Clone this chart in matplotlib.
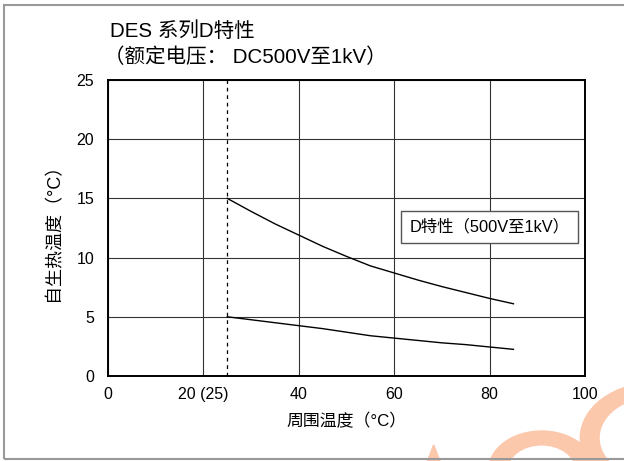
import numpy as np
import matplotlib
matplotlib.use("Agg")
import matplotlib.pyplot as plt
from matplotlib.patches import Rectangle, Wedge, Polygon

plt.rcParams['font.family'] = ['Liberation Sans', 'Noto Sans CJK SC', 'DejaVu Sans']

# data
temp_upper = [25, 30, 35, 40, 45, 50, 55, 60, 65, 70, 75, 80, 85]
heat_upper = [15.0, 13.9, 12.85, 11.9, 10.95, 10.1, 9.3, 8.7, 8.1, 7.55, 7.05, 6.55, 6.1]
temp_lower = [25, 30, 35, 40, 45, 50, 55, 60, 65, 70, 75, 80, 85]
heat_lower = [5.0, 4.75, 4.5, 4.25, 4.0, 3.7, 3.4, 3.2, 3.0, 2.8, 2.65, 2.45, 2.25]
xticks = [0, 20, 40, 60, 80, 100]
xticklabels = ['0', '20 (25)', '40', '60', '80', '100']
yticks = [0, 5, 10, 15, 20, 25]
rated_temp = 25

fig = plt.figure(figsize=(6.24, 4.61), dpi=100)
ax = fig.add_axes([0.1731, 0.1844, 0.7644, 0.6421])

ax.plot(temp_upper, heat_upper, color='black', lw=1.0)
ax.plot(temp_lower, heat_lower, color='black', lw=1.0)
ax.axvline(rated_temp, color='black', lw=0.9, ls=(0, (3, 3)))

ax.set_xlim(0, 100)
ax.set_ylim(0, 25)
ax.set_xticks(xticks)
ax.set_xticklabels(xticklabels)
ax.set_yticks(yticks)
ax.tick_params(length=0, labelsize=11.5, pad=8)
ax.tick_params(axis='y', pad=10)
ax.grid(True, color='#333333', lw=0.8)
for s in ax.spines.values():
    s.set_linewidth(1.4)

ax.set_xlabel('周围温度（°C）', fontsize=12.2, labelpad=8)
ax.set_ylabel('自生热温度（°C）', fontsize=13, labelpad=10)

ax.text(0.632, 0.503, 'D特性（500V至1kV）', transform=ax.transAxes, fontsize=11.8,
        va='center', ha='left',
        bbox=dict(boxstyle='square,pad=0.5', fc='white', ec='#555555', lw=1.0))

fig.text(0.176, 0.92, 'DES 系列D特性', fontsize=14.8, ha='left', va='baseline')
fig.text(0.166, 0.863, '（额定电压： DC500V至1kV）', fontsize=14.8, ha='left', va='baseline')

# outer frame
fig.patches.append(Rectangle((0.007, 0.004), 1.2, 0.985, transform=fig.transFigure,
                             fill=False, ec='#999999', lw=1.5))

# watermark shapes
wm = '#fcc8ac'
fig.patches.append(Wedge((0.868, -0.02), 0.085, 0, 180, width=0.03,
                         transform=fig.transFigure, color=wm, zorder=0))
fig.patches.append(Wedge((1.05, 0.05), 0.12, 90, 270, width=0.03,
                         transform=fig.transFigure, color=wm, zorder=0))
fig.patches.append(Polygon([[0.685, 0.0], [0.695, 0.035], [0.705, 0.0]], closed=True,
                           transform=fig.transFigure, color=wm, zorder=0))

fig.savefig('out.png', dpi=100)
